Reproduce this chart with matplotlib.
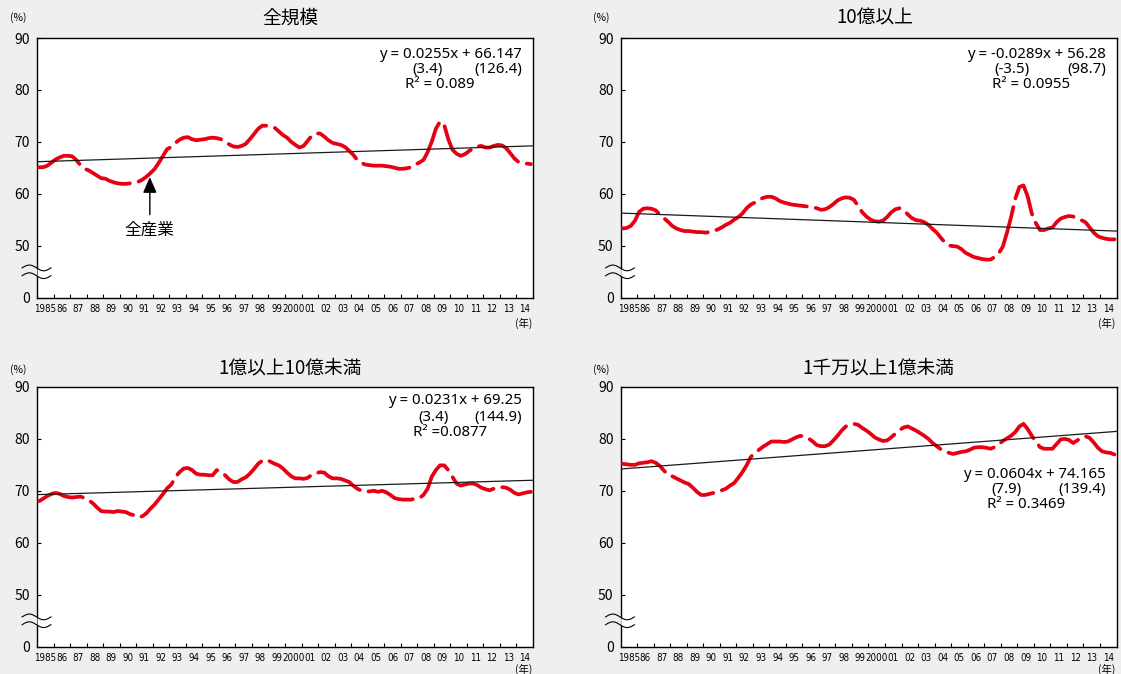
import matplotlib
matplotlib.use("Agg")
import matplotlib.pyplot as plt
import numpy as np
from matplotlib import font_manager
from matplotlib.transforms import blended_transform_factory

plt.rcParams['font.family'] = ['Noto Sans CJK JP', 'DejaVu Sans']

# ---- data: quarterly ratios (%), 1985Q1 .. 2014Q4 ----
year_labels = ['1985', '86', '87', '88', '89', '90', '91', '92', '93', '94',
               '95', '96', '97', '98', '99', '2000', '01', '02', '03', '04',
               '05', '06', '07', '08', '09', '10', '11', '12', '13', '14']

all_sizes = [
    65.1, 65.1, 65.4, 66.0,  66.6, 67.0, 67.3, 67.3,  67.2, 66.5, 65.5, 64.8,
    64.5, 64.0, 63.5, 63.0,  62.9, 62.5, 62.2, 62.0,  61.9, 61.9, 62.0, 62.1,
    62.3, 62.7, 63.3, 64.0,  64.8, 66.0, 67.3, 68.6,  69.0, 69.8, 70.4, 70.8,
    70.9, 70.5, 70.3, 70.4,  70.5, 70.7, 70.8, 70.7,  70.5, 70.0, 69.5, 69.1,
    69.0, 69.2, 69.6, 70.5,  71.5, 72.5, 73.1, 73.1,  73.0, 72.7, 72.0, 71.3,
    70.8, 70.0, 69.4, 68.9,  69.2, 70.2, 71.2, 71.6,  71.6, 71.0, 70.3, 69.8,
    69.6, 69.4, 69.0, 68.3,  67.5, 66.5, 65.9, 65.6,  65.5, 65.4, 65.4, 65.4,
    65.3, 65.2, 65.0, 64.8,  64.8, 64.9, 65.1, 65.6,  66.0, 66.5, 68.0, 70.0,
    72.5, 73.9, 73.3, 70.5,  68.5, 67.7, 67.3, 67.6,  68.2, 68.7, 69.1, 69.2,
    68.9, 68.9, 69.2, 69.4,  69.3, 68.8, 67.8, 66.8,  66.1, 65.9, 65.8, 65.7,
]

large = [
    53.3, 53.4, 53.8, 54.8,  56.5, 57.1, 57.2, 57.1,  56.8, 56.0, 55.3, 54.6,
    53.8, 53.3, 53.0, 52.8,  52.8, 52.7, 52.6, 52.6,  52.5, 52.6, 52.8, 53.1,
    53.5, 54.0, 54.4, 55.0,  55.5, 56.2, 57.2, 57.9,  58.3, 58.8, 59.2, 59.4,
    59.4, 59.1, 58.6, 58.3,  58.1, 57.9, 57.8, 57.7,  57.6, 57.5, 57.4, 57.2,
    56.9, 57.0, 57.4, 58.0,  58.7, 59.1, 59.3, 59.2,  58.8, 57.6, 56.4, 55.6,
    55.0, 54.7, 54.6, 54.8,  55.5, 56.4, 57.0, 57.2,  56.9, 56.0, 55.3, 54.9,
    54.8, 54.5, 54.0, 53.2,  52.5, 51.5, 50.6, 50.0,  49.9, 49.8, 49.3, 48.6,
    48.2, 47.8, 47.6, 47.4,  47.3, 47.3, 47.8, 48.5,  49.8, 52.5, 55.5, 59.0,
    61.3, 61.6, 59.5, 56.2,  54.3, 53.0, 53.0, 53.3,  53.5, 54.5, 55.2, 55.5,
    55.7, 55.6, 55.3, 54.9,  54.5, 53.5, 52.5, 51.8,  51.5, 51.3, 51.2, 51.2,
]

medium = [
    68.0, 68.5, 69.0, 69.4,  69.6, 69.4, 69.0, 68.8,  68.7, 68.8, 68.9, 68.6,
    68.2, 67.6, 66.8, 66.1,  66.0, 66.0, 65.9, 66.1,  66.0, 65.9, 65.5, 65.3,
    64.9, 65.1, 65.7, 66.6,  67.4, 68.4, 69.4, 70.5,  71.2, 72.7, 73.6, 74.3,
    74.4, 74.0, 73.3, 73.1,  73.1, 73.0, 73.0, 74.0,  73.6, 73.0, 72.2, 71.7,
    71.7, 72.2, 72.6, 73.3,  74.2, 75.2, 75.8, 76.0,  75.6, 75.2, 74.9, 74.3,
    73.5, 72.8, 72.4, 72.4,  72.3, 72.5, 73.1, 73.4,  73.6, 73.5, 72.8, 72.4,
    72.4, 72.3, 72.0, 71.7,  71.0, 70.4, 70.0, 69.8,  69.9, 70.0, 69.8, 70.0,
    69.7, 69.2, 68.6, 68.4,  68.3, 68.3, 68.3, 68.5,  68.6, 69.2, 70.4, 72.7,
    74.0, 74.9, 74.9, 74.0,  72.7, 71.4, 71.0, 71.2,  71.4, 71.4, 71.1, 70.6,
    70.3, 70.1, 70.4, 70.7,  70.7, 70.6, 70.2, 69.6,  69.3, 69.5, 69.7, 69.8,
]

small = [
    75.2, 75.1, 75.0, 75.0,  75.3, 75.4, 75.5, 75.7,  75.4, 74.8, 73.9, 73.1,
    72.8, 72.4, 72.0, 71.6,  71.3, 70.6, 69.8, 69.2,  69.2, 69.4, 69.6, 69.9,
    70.1, 70.4, 71.0, 71.5,  72.5, 73.6, 74.9, 76.5,  77.3, 77.9, 78.5, 79.0,
    79.5, 79.5, 79.5, 79.4,  79.5, 79.9, 80.3, 80.6,  80.4, 80.1, 79.5, 78.8,
    78.6, 78.6, 78.9, 79.7,  80.6, 81.6, 82.4, 82.7,  82.9, 82.7, 82.1, 81.6,
    81.0, 80.3, 79.9, 79.6,  79.7, 80.3, 81.0, 81.7,  82.2, 82.4, 82.0, 81.6,
    81.1, 80.6, 80.0, 79.2,  78.6, 78.0, 77.6, 77.3,  77.1, 77.3, 77.5, 77.6,
    77.9, 78.3, 78.4, 78.4,  78.3, 78.1, 78.4, 79.0,  79.6, 80.1, 80.6, 81.3,
    82.4, 82.9, 81.9, 80.6,  79.5, 78.4, 78.1, 78.1,  78.1, 79.0, 79.9, 80.0,
    79.8, 79.2, 79.7, 80.3,  80.5, 80.2, 79.3, 78.3,  77.6, 77.4, 77.3, 77.0,
]

panel_titles = ['全規模', '10億以上', '1億以上10億未満', '1千万以上1億未満']
trend_slopes = [0.0255, -0.0289, 0.0231, 0.0604]
trend_intercepts = [66.147, 56.28, 69.25, 74.165]
equations = ['y = 0.0255x + 66.147', 'y = -0.0289x + 56.28',
             'y = 0.0231x + 69.25', 'y = 0.0604x + 74.165']
slope_t = ['(3.4)', '(-3.5)', '(3.4)', '(7.9)']
intercept_t = ['(126.4)', '(98.7)', '(144.9)', '(139.4)']
r2_text = ['R² = 0.089', 'R² = 0.0955', 'R² =0.0877', 'R² = 0.3469']

ytick_vals = [40, 50, 60, 70, 80, 90]
ytick_labels = ['0', '50', '60', '70', '80', '90']

# ---- figure ----
W, H = 1121, 674
BG = '#efefef'
RED = '#e60012'
fig = plt.figure(figsize=(W / 100, H / 100), dpi=100)
fig.patch.set_facecolor(BG)

installed = {f.name for f in font_manager.fontManager.ttflist}
if 'Liberation Sans Narrow' in installed:
    narrow = dict(family='Liberation Sans Narrow')
else:
    narrow = dict(family='DejaVu Sans', stretch='condensed')

LATIN = ['Noto Sans', 'Noto Sans CJK JP', 'DejaVu Sans']


def ftext(x, y, s, **kw):
    kw.setdefault('va', 'center')
    kw.setdefault('fontsize', 10)
    return fig.text(x / W, 1 - y / H, s, **kw)


AX_W, AX_H = 496, 259.5
panel_origin = [(37, 38), (620.5, 38), (37, 387), (620.5, 387)]
series = [all_sizes, large, medium, small]

quarters = np.arange(1, 121)

for i, (left, top) in enumerate(panel_origin):
    ax = fig.add_axes([left / W, 1 - (top + AX_H) / H, AX_W / W, AX_H / H])
    ax.set_facecolor('white')
    ax.set_xlim(0.5, 120.5)
    ax.set_ylim(40, 90)

    ax.plot(quarters, series[i], color=RED, lw=2.7,
            dashes=(12.5, 2.4), dash_capstyle='round', solid_capstyle='round',
            zorder=3)

    xs = np.array([0.5, 120.5])
    ax.plot(xs, trend_slopes[i] * xs + trend_intercepts[i],
            color='#1a1a1a', lw=0.9, zorder=4)

    for sp in ax.spines.values():
        sp.set_color('black')
        sp.set_linewidth(1.0)

    ax.set_xticks(np.arange(4.5, 120, 4))
    ax.set_xticks(np.arange(2.5, 120, 4), minor=True)
    ax.set_xticklabels(year_labels, minor=True, fontsize=7, **narrow)
    ax.tick_params(axis='x', which='major', direction='in', length=3,
                   width=0.8, labelbottom=False)
    ax.tick_params(axis='x', which='minor', length=0, pad=5)

    ax.set_yticks(ytick_vals)
    ax.set_yticklabels(ytick_labels)
    ax.tick_params(axis='y', direction='in', length=3, width=0.8,
                   labelsize=10, pad=5)

    # axis break mark between 0 and 50
    tr = blended_transform_factory(ax.transAxes, ax.transData)
    t = np.linspace(0, 1, 60)
    bx = -0.030 + 0.058 * t
    wave = 0.55 * np.sin(2 * np.pi * t)
    y1 = 45.7 + wave
    y2 = 44.2 + wave
    ax.fill_between(bx[bx <= 0], y1[bx <= 0], y2[bx <= 0], color=BG,
                    transform=tr, clip_on=False, zorder=5, lw=0)
    ax.fill_between(bx[bx >= 0], y1[bx >= 0], y2[bx >= 0], color='white',
                    transform=tr, clip_on=False, zorder=5, lw=0)
    ax.plot(bx, y1, color='black', lw=0.8, transform=tr, clip_on=False, zorder=6)
    ax.plot(bx, y2, color='black', lw=0.8, transform=tr, clip_on=False, zorder=6)

    if i == 0:
        ax.annotate('全産業', xy=(27.8, 63.2), xytext=(27.8, 53.0),
                    ha='center', va='center', fontsize=12,
                    arrowprops=dict(arrowstyle='-|>,head_length=0.8,head_width=0.35',
                                    color='black', lw=1.0, shrinkA=3, shrinkB=0))

# titles and unit labels
title_pos = [(290, 18), (875, 18), (290, 368), (878, 368)]
for (x, y), s in zip(title_pos, panel_titles):
    ftext(x, y, s, ha='center', fontsize=13.5)

for x, y in [(18, 18), (601, 18), (18, 370), (601, 370)]:
    ftext(x, y, '(%)', ha='center', fontsize=7.5)
for x, y in [(524, 323), (1107, 323), (524, 669), (1107, 669)]:
    ftext(x, y, '(年)', ha='center', fontsize=7.5)

# regression equations
eq_layout = [
    # (right edge, line1 y, slope-t centre x, line3 left x)
    (522, 54, 428, 405),
    (1106, 54, 1012, 992),
    (522, 401, 434, 413),
    (1106, 474, 1006, 987),
]
for i, (rx, y0, sx, lx) in enumerate(eq_layout):
    ftext(rx, y0, equations[i], ha='right', family=LATIN, fontsize=10.8)
    ftext(sx, y0 + 16, slope_t[i], ha='center', family=LATIN, fontsize=10.8)
    ftext(rx, y0 + 16, intercept_t[i], ha='right', family=LATIN, fontsize=10.8)
    ftext(lx, y0 + 31, r2_text[i], ha='left', family=LATIN, fontsize=10.8)

fig.savefig('out.png', dpi=100, facecolor=BG)
